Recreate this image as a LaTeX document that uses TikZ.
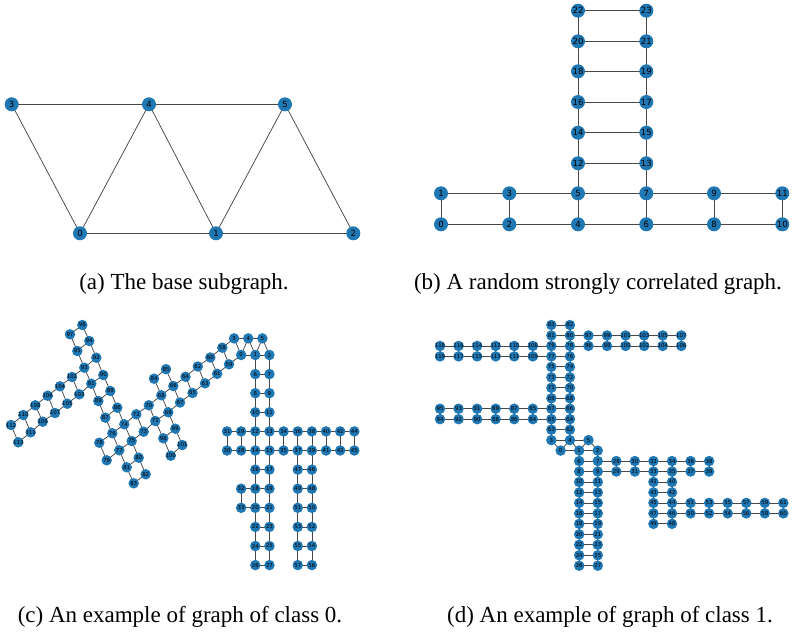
\documentclass[tikz,border=0pt]{standalone}
\usepackage{fontspec}
\setmainfont{Liberation Serif}
\newfontfamily\lblfont{DejaVu Sans}
\usetikzlibrary{backgrounds}
\definecolor{nb}{HTML}{1F77B4}
\tikzset{
  edge/.style={draw=black!72, line width=0.75pt},
  vbig/.style={circle, fill=nb, inner sep=0pt, minimum size=14pt, text=black, font=\lblfont\fontsize{8.5}{8.5}\selectfont},
  vsmall/.style={circle, fill=nb, inner sep=0pt, minimum size=10.5pt, text=black, font=\lblfont\fontsize{5.4}{5.4}\selectfont},
  captext/.style={inner sep=0pt, font=\fontsize{23}{26}\selectfont}
}
\begin{document}
\begin{tikzpicture}[x=1pt,y=-1pt]
\useasboundingbox (0,0) rectangle (801,632);
% ---------------- (a)
\foreach \n/\x/\y in {0/80/233.3,1/216/233.3,2/353.3/233.3,3/11.7/104.3,4/149/104.3,5/285/104.3}
  \node[vbig] (a\n) at (\x,\y) {\makebox[0pt]{\n}};
% ---------------- (b)
\foreach \n/\x/\y in {0/441/224.3,1/441/193.3,2/509.3/224.3,3/509.3/193.3,4/578/224.3,5/578/193.3,
  6/646.3/224.3,7/646.3/193.3,8/714/224.3,9/714/193.3,10/782.3/224.3,11/782.3/193.3,
  12/578/163.3,13/646.3/163.3,14/578/132.7,15/646.3/132.7,16/578/102,17/646.3/102,
  18/578/71.3,19/646.3/71.3,20/578/41.3,21/646.3/41.3,22/578/10.7,23/646.3/10.7}
  \node[vbig] (b\n) at (\x,\y) {\makebox[0pt]{\n}};
% ---------------- (c) grid part
\foreach \n/\m/\k in {0/1/0,1/2/0,2/3/0,3/0.5/-0.87,4/1.5/-0.87,5/2.5/-0.87,
  6/2/1,7/3/1,8/2/2,9/3/2,10/2/3,11/3/3,12/2/4,13/3/4,14/2/5,15/3/5,16/2/6,17/3/6,
  18/2/7,19/3/7,20/2/8,21/3/8,22/2/9,23/3/9,24/2/10,25/3/10,26/2/11,27/3/11,
  28/1/5,29/1/4,30/0/5,31/0/4,32/1/7,33/1/8,
  34/4/4,35/4/5,36/5/4,37/5/5,38/6/4,39/6/5,40/7/4,41/7/5,42/8/4,43/8/5,44/9/4,45/9/5,
  46/6/6,47/5/6,48/6/7,49/5/7,50/6/8,51/5/8,52/6/9,53/5/9,54/6/10,55/5/10,56/6/11,57/5/11}
  \node[vsmall] (c\n) at ({227+14.15*\m},{355+19.1*\k}) {\makebox[0pt]{\n}};
% ---------------- (c) diagonal part
\foreach \n/\x/\y in {58/222.3/347.7,59/229/364.3,60/210.3/357.5,61/217.2/373.8,62/197.8/366.5,63/205/383.3,
  64/185.5/376.8,65/192.5/393,66/173.3/386,67/180/402.5,68/161.3/395.3,69/168.3/412.3,
  70/148.8/405.3,71/155.3/421,72/136.3/414.3,73/143.7/431.7,74/124.3/424.3,75/131.7/441,
  76/112.3/433.3,77/119.3/450.3,78/99.3/442.7,79/106.7/460.3,
  80/138.7/457.7,81/126.7/467.3,82/145.7/474.3,83/133.7/483.3,84/154/378.7,85/166/369.2,
  86/117.3/407.7,87/105.3/417.7,88/110.3/391,89/98.3/401,90/103.3/375,91/91.3/383.7,
  92/96.3/357.7,93/84.3/367.7,94/89.3/341,95/77.3/351,96/82.3/325,97/70/334.3,
  98/163.3/438.3,99/175.3/428.7,100/170.7/455.7,101/182.3/445,
  102/72/377,103/79.3/394.3,104/60/386.3,105/67.3/403.7,106/47.7/395.7,107/55/413,
  108/35.3/405.3,109/42.7/421.7,110/23.3/415,111/30.7/432.3,112/11/425,113/18.3/442.3}
  \node[vsmall] (c\n) at (\x,\y) {\makebox[0pt]{\n}};
% ---------------- (d)
\foreach \n/\j/\k in {83/12/0,82/14/0,
  81/12/1,80/14/1,97/16/1,99/18/1,101/20/1,103/22/1,105/24/1,107/26/1,
  79/12/2,78/14/2,96/16/2,98/18/2,100/20/2,102/22/2,104/24/2,106/26/2,
  118/0/2,116/2/2,114/4/2,112/6/2,110/8/2,108/10/2,
  119/0/3,117/2/3,115/4/3,113/6/3,111/8/3,109/10/3,77/12/3,76/14/3,
  75/12/4,74/14/4,73/12/5,72/14/5,71/12/6,70/14/6,69/12/7,68/14/7,
  95/0/8,93/2/8,91/4/8,89/6/8,87/8/8,85/10/8,67/12/8,66/14/8,
  94/0/9,92/2/9,90/4/9,88/6/9,86/8/9,84/10/9,65/12/9,64/14/9,
  63/12/10,62/14/10,3/12/11,4/14/11,5/16/11,0/13/12,1/15/12,2/17/12,
  6/15/13,7/17/13,28/19/13,30/21/13,32/23/13,34/25/13,36/27/13,38/29/13,
  8/15/14,9/17/14,29/19/14,31/21/14,33/23/14,35/25/14,37/27/14,39/29/14,
  10/15/15,11/17/15,41/23/15,40/25/15,12/15/16,13/17/16,43/23/16,42/25/16,
  14/15/17,15/17/17,45/23/17,44/25/17,51/27/17,53/29/17,55/31/17,57/33/17,59/35/17,61/37/17,
  16/15/18,17/17/18,47/23/18,46/25/18,50/27/18,52/29/18,54/31/18,56/33/18,58/35/18,60/37/18,
  18/15/19,19/17/19,49/23/19,48/25/19,20/15/20,21/17/20,22/15/21,23/17/21,
  24/15/22,25/17/22,26/15/23,27/17/23}
  \node[vsmall] (d\n) at ({440+9.28*\j},{325+10.465*\k}) {\makebox[0pt]{\n}};
% ---------------- edges
\begin{pgfonlayer}{background}
\foreach \u/\v in {3/4,4/5,3/0,0/4,4/1,1/5,5/2,0/1,1/2}
  \draw[edge] (a\u.center) -- (a\v.center);
\foreach \u/\v in {0/1,0/2,1/3,2/3,2/4,3/5,4/5,4/6,5/7,6/7,6/8,7/9,8/9,8/10,9/11,10/11,
  5/12,7/13,12/13,12/14,13/15,14/15,14/16,15/17,16/17,16/18,17/19,18/19,18/20,19/21,20/21,20/22,21/23,22/23}
  \draw[edge] (b\u.center) -- (b\v.center);
\foreach \u/\v in {3/4,4/5,3/0,0/4,4/1,1/5,5/2,0/1,1/2,
  1/6,2/7,6/7,6/8,7/9,8/9,8/10,9/11,10/11,10/12,11/13,12/13,12/14,13/15,14/15,14/16,15/17,16/17,
  16/18,17/19,18/19,18/20,19/21,20/21,20/22,21/23,22/23,22/24,23/25,24/25,24/26,25/27,26/27,
  12/29,14/28,29/28,29/31,28/30,31/30,18/32,20/33,32/33,
  13/34,15/35,34/35,34/36,35/37,36/37,36/38,37/39,38/39,38/40,39/41,40/41,40/42,41/43,42/43,42/44,43/45,44/45,
  37/47,39/46,47/46,47/49,46/48,49/48,49/51,48/50,51/50,51/53,50/52,53/52,53/55,52/54,55/54,55/57,54/56,57/56,
  3/58,0/59,58/59,58/60,59/61,60/61,60/62,61/63,62/63,62/64,63/65,64/65,64/66,65/67,66/67,66/68,67/69,68/69,
  68/70,69/71,70/71,70/72,71/73,72/73,72/74,73/75,74/75,74/76,75/77,76/77,76/78,77/79,78/79,
  75/80,77/81,80/81,80/82,81/83,82/83,66/85,68/84,84/85,
  74/86,76/87,86/87,86/88,87/89,88/89,88/90,89/91,90/91,90/92,91/93,92/93,92/94,93/95,94/95,94/96,95/97,96/97,
  69/99,71/98,98/99,99/101,98/100,100/101,
  93/102,91/103,102/103,102/104,103/105,104/105,104/106,105/107,106/107,106/108,107/109,108/109,
  108/110,109/111,110/111,110/112,111/113,112/113}
  \draw[edge] (c\u.center) -- (c\v.center);
\foreach \u/\v in {3/4,4/5,3/0,0/4,4/1,1/5,5/2,0/1,1/2,
  1/6,2/7,6/7,6/8,7/9,8/9,8/10,9/11,10/11,10/12,11/13,12/13,12/14,13/15,14/15,14/16,15/17,16/17,
  16/18,17/19,18/19,18/20,19/21,20/21,20/22,21/23,22/23,22/24,23/25,24/25,24/26,25/27,26/27,
  7/28,9/29,28/29,28/30,29/31,30/31,30/32,31/33,32/33,32/34,33/35,34/35,34/36,35/37,36/37,36/38,37/39,38/39,
  33/41,35/40,41/40,41/43,40/42,43/42,43/45,42/44,45/44,45/47,44/46,47/46,47/49,46/48,49/48,
  44/51,46/50,51/50,51/53,50/52,53/52,53/55,52/54,55/54,55/57,54/56,57/56,57/59,56/58,59/58,59/61,58/60,61/60,
  3/63,4/62,63/62,63/65,62/64,65/64,65/67,64/66,67/66,67/69,66/68,69/68,69/71,68/70,71/70,71/73,70/72,73/72,
  73/75,72/74,75/74,75/77,74/76,77/76,77/79,76/78,79/78,79/81,78/80,81/80,81/83,80/82,83/82,
  67/85,65/84,85/84,85/87,84/86,87/86,87/89,86/88,89/88,89/91,88/90,91/90,91/93,90/92,93/92,93/95,92/94,95/94,
  80/97,78/96,97/96,97/99,96/98,99/98,99/101,98/100,101/100,101/103,100/102,103/102,103/105,102/104,105/104,105/107,104/106,107/106,
  79/108,77/109,108/109,108/110,109/111,110/111,110/112,111/113,112/113,112/114,113/115,114/115,114/116,115/117,116/117,116/118,117/119,118/119}
  \draw[edge] (d\u.center) -- (d\v.center);
\end{pgfonlayer}
% ---------------- captions
\node[captext] (capa) at (184,284) {(a) The base subgraph.};
\node[captext] (capb) at (598,284) {(b) A random strongly correlated graph.};
\node[captext] (capc) at (180,617) {(c) An example of graph of class 0.};
\node[captext] (capd) at (610,617) {(d) An example of graph of class 1.};
\end{tikzpicture}
\end{document}
